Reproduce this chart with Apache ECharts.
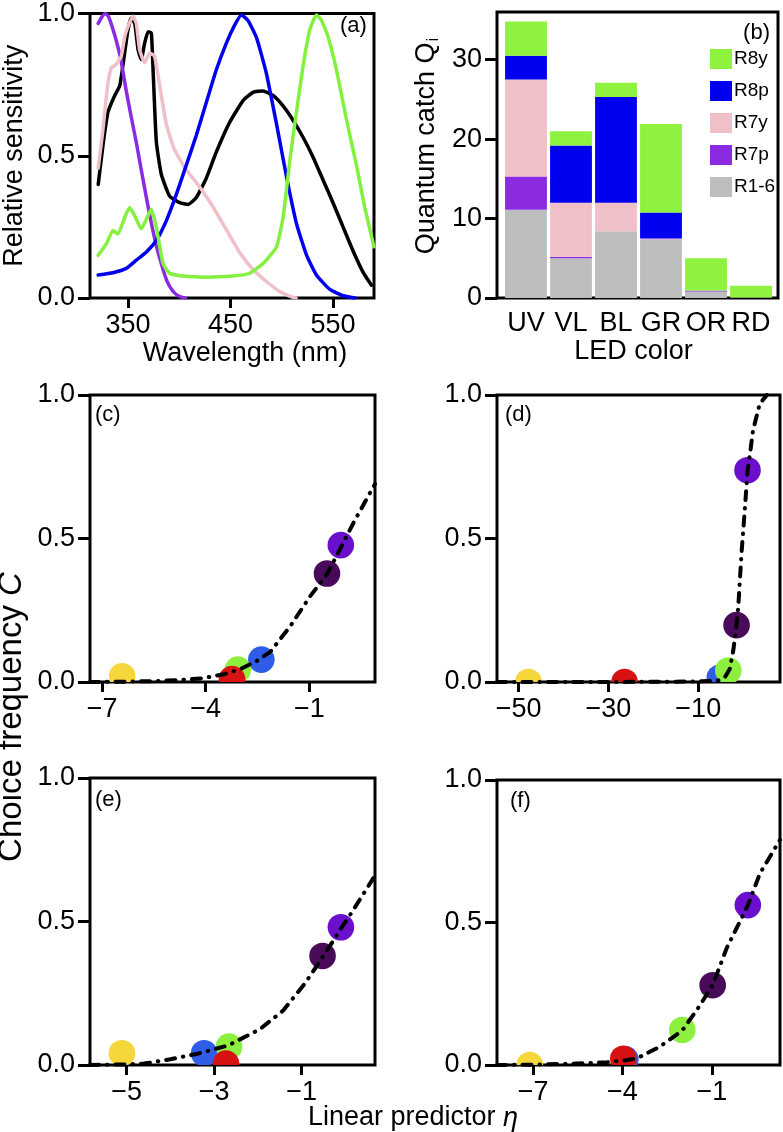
<!DOCTYPE html>
<html><head><meta charset="utf-8">
<script src="https://cdn.jsdelivr.net/npm/echarts@6/dist/echarts.min.js"></script>
<style>html,body{margin:0;padding:0;background:#fff}#c{width:783px;height:1132px}</style>
</head><body><div id="c"></div>
<script>
// ---------- Panel (a): spectral sensitivities ----------
const wlR7p = [[321,0.965],[325,0.99],[328,1.0],[331,0.99],[337,0.925],[343,0.84],[348,0.735],[353,0.64],[358,0.55],[363,0.45],[368,0.353],[373,0.26],[378,0.18],[383,0.115],[388,0.06],[393,0.028],[398,0.01],[403,0.002],[406,0]];
const wlR7y = [[321,0.457],[325.7,0.595],[330.5,0.757],[333.8,0.809],[338.6,0.821],[343.5,0.85],[347,0.92],[350,0.954],[354.9,0.99],[358.2,0.965],[361.4,0.873],[366.3,0.827],[371.2,0.861],[376,0.85],[381,0.746],[387.5,0.61],[395,0.525],[405,0.46],[420,0.39],[433,0.32],[446,0.24],[459,0.16],[472,0.1],[485,0.058],[498,0.023],[511,0.002],[514,0]];
const wlBlack = [[321,0.399],[325.7,0.538],[330.5,0.653],[337,0.711],[342,0.746],[345,0.815],[350,0.942],[353,0.983],[356.6,0.965],[359.9,0.873],[363,0.838],[366.3,0.896],[369.6,0.936],[372.8,0.931],[374.5,0.803],[377.7,0.549],[382.6,0.434],[390.7,0.358],[400.5,0.335],[408.6,0.329],[416.7,0.353],[426.5,0.422],[436.3,0.514],[449.3,0.618],[462.3,0.694],[472,0.723],[481.8,0.728],[491.6,0.712],[501.3,0.675],[511,0.625],[520.8,0.565],[530.6,0.495],[540.3,0.415],[550,0.335],[559.8,0.25],[569.6,0.165],[579.4,0.09],[587.5,0.045]];
const wlR8p = [[321,0.081],[335.4,0.089],[348.4,0.104],[358.2,0.133],[368,0.162],[377.7,0.202],[387.5,0.272],[397.2,0.364],[407,0.468],[416.7,0.572],[426.5,0.688],[436.3,0.803],[446,0.896],[454.2,0.96],[460.7,0.995],[467.2,0.975],[475.4,0.915],[485,0.79],[495,0.61],[505,0.42],[514.5,0.26],[524.3,0.15],[534,0.08],[547,0.03],[560,0.008],[571.5,0]];
const wlR8y = [[321,0.15],[329,0.191],[335.4,0.237],[340.3,0.225],[346.8,0.283],[351.6,0.318],[356.6,0.289],[363,0.243],[368,0.277],[372.8,0.312],[377.7,0.249],[384.2,0.121],[390.7,0.087],[403.7,0.077],[426.5,0.073],[452.5,0.077],[468.8,0.087],[481.8,0.121],[494.8,0.179],[501.3,0.283],[507.8,0.48],[514.3,0.653],[520.8,0.815],[527.3,0.942],[533.8,0.995],[538.6,0.977],[545.1,0.919],[553.3,0.803],[563,0.63],[572.8,0.468],[581,0.318],[590,0.18]];
const wlTicks = [350, 450, 550];

// ---------- Panel (b): quantum catch ----------
const ledCats = ['UV','VL','BL','GR','OR','RD'];
const qR1_6 = [11.1, 5.0, 8.4, 7.35, 0.75, 0.05];
const qR7p  = [4.2, 0.2, 0.0, 0.05, 0.1, 0.0];
const qR7y  = [12.2, 6.8, 3.6, 0.1, 0.05, 0.0];
const qR8p  = [3.0, 7.2, 13.3, 3.25, 0.05, 0.0];
const qR8y  = [4.3, 1.8, 1.8, 11.15, 4.05, 1.5];
const qTicks = [0, 10, 20, 30];

// ---------- Panels (c)-(f): choice frequency vs linear predictor ----------
// dot order: OR(yellow), BL, GR, RD, UV, VL
const dotColors = ['#f5d73c', '#2f5de8', '#8ef03e', '#d81212', '#4a0a5a', '#6a10cc'];
const cDots = [[-6.42,0.02],[-2.39,0.078],[-3.07,0.043],[-3.24,0.01],[-0.49,0.378],[-0.09,0.477]];
const dDots = [[-47.8,0.0],[-5.2,0.015],[-3.3,0.04],[-26.4,0.0],[-1.47,0.198],[0.97,0.738]];
const eDots = [[-5.11,0.041],[-3.23,0.041],[-2.66,0.064],[-2.73,0.005],[-0.52,0.38],[-0.10,0.48]];
const fDots = [[-7.11,0.0],[-3.9,0.02],[-1.99,0.123],[-3.97,0.022],[-0.97,0.28],[0.21,0.561]];
const cCurve = [[-7.35,0.0],[-6.5,0.001],[-5.5,0.003],[-4.76,0.007],[-4.09,0.013],[-3.44,0.028],[-3.0,0.045],[-2.5,0.075],[-2.13,0.105],[-1.55,0.195],[-0.97,0.3],[-0.49,0.375],[-0.09,0.468],[0.3,0.56],[0.9,0.69]];
const dCurve = [[-54.8,0.0],[-20,0.0005],[-10,0.002],[-6,0.004],[-5,0.008],[-4,0.018],[-3,0.045],[-2.2,0.11],[-1.47,0.2],[-1.1,0.26],[-0.36,0.45],[0.5,0.63],[0.97,0.735],[1.56,0.8],[2.2,0.877],[3.7,0.97],[5.3,1.0]];
const eCurve = [[-5.84,0.0],[-5.0,0.002],[-4.6,0.005],[-4.0,0.02],[-3.36,0.04],[-2.68,0.068],[-1.95,0.125],[-1.42,0.19],[-0.92,0.285],[-0.54,0.37],[-0.1,0.475],[0.14,0.53],[0.68,0.66]];
const fCurve = [[-8.21,0.0],[-7,0.001],[-5.53,0.005],[-4.5,0.01],[-4,0.015],[-3.52,0.023],[-2.75,0.064],[-2,0.12],[-1.5,0.193],[-0.97,0.28],[-0.5,0.41],[0.21,0.56],[0.62,0.673],[1.29,0.79]];
const cTicks = [-7, -4, -1];
const dTicks = [-50, -30, -10];
const eTicks = [-5, -3, -1];
const fTicks = [-7, -4, -1];
const yTicks01 = [0, 0.5, 1];

const FONT = 'Liberation Sans';
const FS = 27;
const K = '#000';

const minus = v => (v < 0 ? '\u2212' : '') + Math.abs(v);

function xVal(gi, min, max, ticks, fmt, extra) {
  return Object.assign({
    gridIndex: gi, type: 'value', min: min, max: max,
    axisLine: {show: false, onZero: false}, splitLine: {show: false},
    axisTick: {show: true, inside: false, length: 10, customValues: ticks, lineStyle: {color: K, width: 3}},
    axisLabel: {show: true, margin: 14, customValues: ticks, formatter: fmt, color: K, fontSize: FS, fontFamily: FONT}
  }, extra || {});
}
function yVal(gi, min, max, ticks, fmt, extra) {
  return Object.assign({
    gridIndex: gi, type: 'value', min: min, max: max,
    axisLine: {show: false, onZero: false}, splitLine: {show: false},
    axisTick: {show: true, inside: false, length: 12, customValues: ticks, lineStyle: {color: K, width: 3}},
    axisLabel: {show: true, margin: 15, customValues: ticks, formatter: fmt, color: K, fontSize: FS, fontFamily: FONT}
  }, extra || {});
}
const f1 = v => v.toFixed(1);
const boxGrid = (l, t, w, h) => ({left: l, top: t, width: w, height: h, show: true, borderColor: K, borderWidth: 3, backgroundColor: 'transparent', containLabel: false});

const grids = [
  boxGrid(90, 10, 284, 288),     // 0 a
  boxGrid(497, 12, 281, 286),    // 1 b box
  {left: 503.5, top: 12, width: 270, height: 286, show: false}, // 2 b bars
  boxGrid(90, 395, 285, 287),    // 3 c
  boxGrid(497, 395, 283, 287),   // 4 d
  boxGrid(90, 778, 285, 287),    // 5 e
  boxGrid(497, 780, 283, 285)    // 6 f
];

const xAxes = [
  xVal(0, 313, 590, wlTicks, v => String(v), {name: 'Wavelength (nm)', nameLocation: 'middle', nameGap: 36,
      nameTextStyle: {color: K, fontSize: FS, fontFamily: FONT, padding: [0, 0, 0, 26]}}),
  {gridIndex: 1, type: 'value', show: false, axisLine: {onZero: false}},
  {gridIndex: 2, type: 'category', data: ledCats, axisLine: {show: false, onZero: false}, axisTick: {show: false}, splitLine: {show: false},
    axisLabel: {margin: 12, interval: 0, color: K, fontSize: FS, fontFamily: FONT},
    name: 'LED color', nameLocation: 'middle', nameGap: 39, nameTextStyle: {color: K, fontSize: FS, fontFamily: FONT, padding: [0, 10, 0, 0]}},
  xVal(3, -7.35, 0.9, cTicks, minus),
  xVal(4, -54.8, 8.2, dTicks, minus),
  xVal(5, -5.84, 0.68, eTicks, minus),
  xVal(6, -8.21, 1.29, fTicks, minus)
];
const yAxes = [
  yVal(0, 0, 1, yTicks01, f1, {name: 'Relative sensitivity', nameLocation: 'middle', nameGap: 62,
      nameTextStyle: {color: K, fontSize: FS, fontFamily: FONT}}),
  {gridIndex: 1, type: 'value', show: false, axisLine: {onZero: false}},
  yVal(2, 0, 36, qTicks, v => String(v), {offset: 6.5,
      name: '{a|Quantum catch Q}{s|i}', nameLocation: 'middle', nameGap: 55,
      nameTextStyle: {color: K, fontSize: FS, fontFamily: FONT, padding: [0, 0, 0, 18],
        rich: {a: {fontSize: FS, fontFamily: FONT, color: K},
               s: {fontSize: 17, fontFamily: FONT, color: K, padding: [14, 0, 0, 1]}}}}),
  yVal(3, 0, 1, yTicks01, f1),
  yVal(4, 0, 1, yTicks01, f1),
  yVal(5, 0, 1, yTicks01, f1),
  yVal(6, 0, 1, yTicks01, f1)
];

const series = [];
const wlLines = [
  ['R1-6 curve', wlBlack, '#000000'],
  ['R7p curve', wlR7p, '#8a2be2'],
  ['R7y curve', wlR7y, '#f0c0c8'],
  ['R8p curve', wlR8p, '#0000ee'],
  ['R8y curve', wlR8y, '#84f040']
];
wlLines.forEach(([n, d, c]) => series.push({
  name: n, type: 'line', xAxisIndex: 0, yAxisIndex: 0, data: d, showSymbol: false, clip: true,
  smooth: 0.15,
  lineStyle: {color: c, width: 3.5, cap: 'round', join: 'round'}, z: 3
}));

const barDefs = [
  ['R1-6', qR1_6, '#bebebe'],
  ['R7p', qR7p, '#8a2be2'],
  ['R7y', qR7y, '#f0c0c8'],
  ['R8p', qR8p, '#0000f0'],
  ['R8y', qR8y, '#8ef23e']
];
barDefs.forEach(([n, d, c]) => series.push({
  name: n, type: 'bar', stack: 'q', xAxisIndex: 2, yAxisIndex: 2, data: d,
  barCategoryGap: '7%', itemStyle: {color: c}
}));

function dotSeries(ax, dots) {
  return {
    type: 'custom', xAxisIndex: ax, yAxisIndex: ax, data: dots, clip: true, z: 2,
    renderItem: function (params, api) {
      const p = api.coord([api.value(0), api.value(1)]);
      return {type: 'circle', shape: {cx: p[0], cy: p[1], r: 13.3}, style: {fill: dotColors[params.dataIndex]}};
    }
  };
}
function curveSeries(ax, d) {
  return {
    type: 'line', xAxisIndex: ax, yAxisIndex: ax, data: d, showSymbol: false, clip: true, z: 4,
    smooth: false,
    lineStyle: {color: K, width: 4, type: [9, 8, 0.5, 8], cap: 'round', join: 'round'}
  };
}
[[3, cDots, cCurve], [4, dDots, dCurve], [5, eDots, eCurve], [6, fDots, fCurve]].forEach(([ax, dots, cur]) => {
  series.push(dotSeries(ax, dots));
  series.push(curveSeries(ax, cur));
});

const tagStyle = {fontSize: 22, fontWeight: 'normal', fontFamily: FONT, color: K};
const titles = [
  {text: '(a)', left: 340, top: 15},
  {text: '(b)', right: 13, top: 22},
  {text: '(c)', left: 95, top: 404},
  {text: '(d)', left: 505, top: 404},
  {text: '(e)', left: 95, top: 789},
  {text: '(f)', left: 510, top: 790}
].map(t => Object.assign({padding: 0, textStyle: tagStyle}, t));

const option = {
  animation: false,
  backgroundColor: '#ffffff',
  textStyle: {fontFamily: FONT, color: K},
  title: titles,
  grid: grids,
  xAxis: xAxes,
  yAxis: yAxes,
  legend: {
    orient: 'vertical', left: 710, top: 49, itemWidth: 22, itemHeight: 20, itemGap: 12, icon: 'rect',
    selectedMode: false, padding: 0,
    data: ['R8y', 'R8p', 'R7y', 'R7p', 'R1-6'],
    textStyle: {fontSize: 19, fontFamily: FONT, color: K, padding: [0, 0, 0, -3]}
  },
  graphic: [
    {type: 'text', x: 12, y: 717, rotation: Math.PI / 2,
      style: {text: '{n|Choice frequency }{i|C}', align: 'center', verticalAlign: 'middle', fill: K,
        rich: {n: {fontSize: 33, fontFamily: FONT, fill: K}, i: {fontSize: 33, fontFamily: FONT, fontStyle: 'italic', fill: K}}}},
    {type: 'text', x: 413, y: 1118,
      style: {text: '{n|Linear predictor }{i|\u03b7}', align: 'center', verticalAlign: 'middle', fill: K,
        rich: {n: {fontSize: FS, fontFamily: FONT, fill: K}, i: {fontSize: FS, fontFamily: FONT, fontStyle: 'italic', fill: K}}}}
  ],
  series: series
};

const chart = echarts.init(document.getElementById('c'), null, {renderer: 'canvas'});
chart.setOption(option);
</script></body></html>
